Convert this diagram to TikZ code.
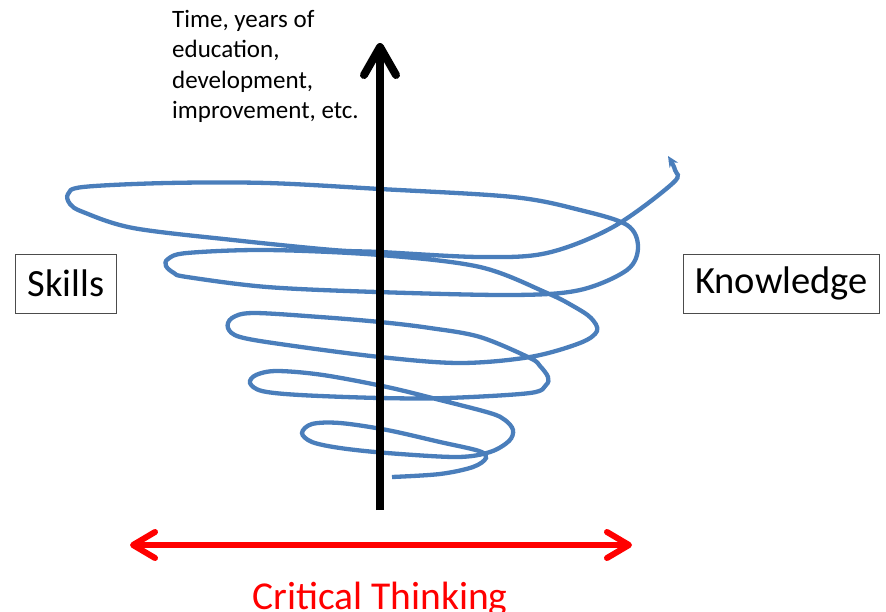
\documentclass[tikz,border=0pt]{standalone}
\usepackage{fontspec}
\setmainfont{Carlito}
\usetikzlibrary{positioning,arrows.meta}
\definecolor{spiralblue}{HTML}{4A7EBB}

\begin{document}
\begin{tikzpicture}[x=1pt,y=-1pt,
  labelbox/.style={draw=black!70,line width=1pt,inner xsep=12pt,minimum height=59pt,
    font=\fontsize{38.5}{46}\selectfont}]
\useasboundingbox (0,0) rectangle (886,611);
% the spiral
\draw[spiralblue,line width=4.3pt,-{Stealth[length=11pt,width=10pt]},smooth,tension=0.55]
plot coordinates {(392,477) (440,474) (473,467) (486,458) (479,451) (440,442) (387,430)
(340,423) (312,424) (302,433) (312,442) (340,448) (387,453) (457,457) (490,452) (509,441)
(513,430) (505,420) (490,413) (440,400) (387,387) (323,375) (277,371) (256,375) (250,383)
(262,391) (300,395) (380,398) (447,398) (530,393) (546,385) (548,377) (540,366) (530,358)
(480,337) (430,328) (380,322) (320,317) (253,313) (232,318) (228,328) (240,337) (287,345)
(380,357) (460,363) (530,357) (580,343) (597,331) (591,318) (573,306) (547,293) (480,267)
(380,255) (267,250) (187,253) (168,259) (166,266) (174,273) (187,277) (267,287) (377,292)
(513,295) (580,290) (627,270) (638,247) (627,225) (580,210) (513,197) (380,189) (267,183)
(167,183) (83,187) (68,194) (70,204) (83,212) (133,228) (233,240) (333,250) (380,252)
(480,257) (547,253) (613,227) (673,183) (675,170) (668,156)};
% time axis
\coordinate (tbot) at (380,510);
\coordinate (ttop) at (380,43);
\draw[line width=8pt,-{Straight Barb[length=28pt,width=32pt,round]}] (tbot) -- (ttop);
\node[anchor=north west,align=left,inner sep=0pt,font=\fontsize{25}{30.5}\selectfont]
  (time) at (172,10) {Time, years of\\education,\\development,\\improvement, etc.};
\node[labelbox] (skills) at (66,283.5) {Skills};
\node[labelbox] (knowledge) at (781.5,283.5) {Knowledge};
% critical thinking
\coordinate (ctl) at (130,545);
\coordinate (ctr) at (632,545);
\draw[red,line width=6pt,{Straight Barb[length=22pt,width=26pt,round]}-{Straight Barb[length=22pt,width=26pt,round]}]
  (ctl) -- (ctr);
\node[red,anchor=base,font=\fontsize{39.5}{47}\selectfont] (ct) at (380,609) {Critical Thinking};
\end{tikzpicture}
\end{document}
